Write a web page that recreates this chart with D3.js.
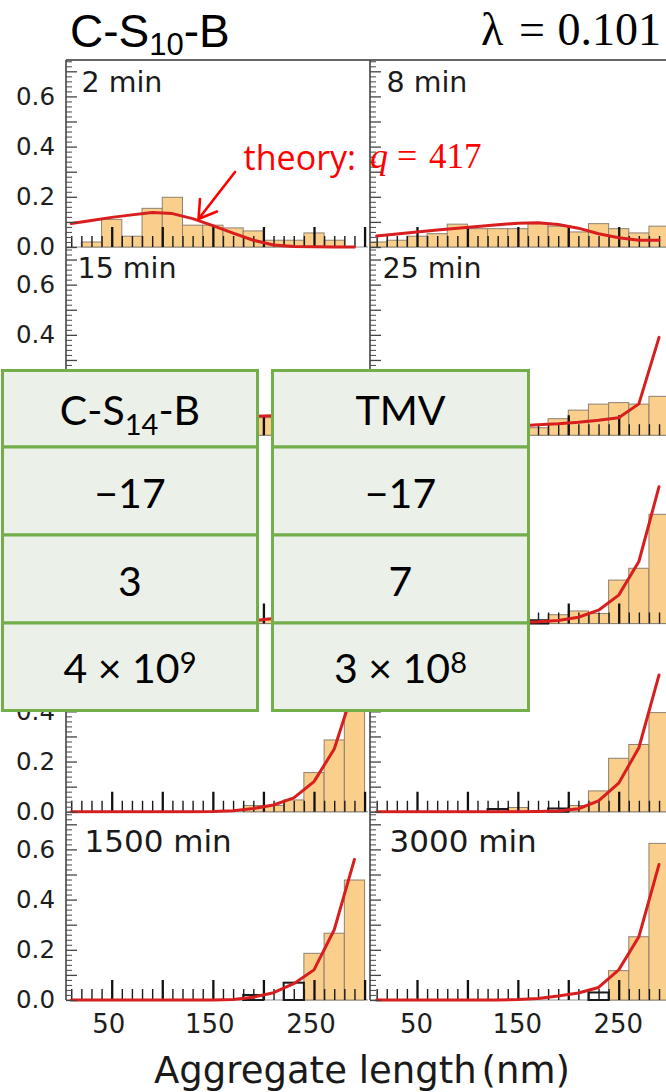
<!DOCTYPE html>
<html><head><meta charset="utf-8">
<script src="https://cdn.jsdelivr.net/npm/d3@7"></script>
<style>body{margin:0;background:#fff}svg{display:block}</style>
</head><body>
<svg id="c" width="666" height="1092"></svg>
<script>
// ---------- DATA ----------
const binEdges = [0,20,40,60,80,100,120,140,160,180,200,220,240,260,280,300];
const binCenters = [10,30,50,70,90,110,130,150,170,190,210,230,250,270,290];
const panelLabels = ["2 min","8 min","15 min","25 min","","","","","1500 min","3000 min"];
const barValues = [
  [0,0.02,0.11,0.043,0.154,0.198,0.087,0.087,0.076,0.064,0.027,0.027,0.056,0.027,0],
  [0.02,0.027,0.043,0.053,0.091,0.073,0.073,0.073,0.093,0.083,0.06,0.093,0.073,0.056,0.083],
  [0.01,0.02,0.035,0.05,0.06,0.07,0.075,0.07,0.065,0.07,0.07,0.06,0.075,0.09,0.12],
  [0.02,0.025,0.03,0.035,0.04,0.04,0.045,0.04,0.03,0.066,0.1,0.124,0.13,0.124,0.155],
  [0,0,0,0,0,0.005,0.005,0.01,0.01,0.01,0.015,0.05,0.12,0.2,0.35],
  [0,0,0,0,0,0,0,0,0,0.035,0.05,0.04,0.173,0.22,0.435],
  [0,0,0,0,0,0,0,0,0,0.025,0.025,0.047,0.156,0.286,0.5],
  [0,0,0,0,0,0,0,0.017,0,0,0.025,0.083,0.213,0.268,0.395],
  [0,0,0,0,0,0,0,0,0,0,0,0,0.186,0.266,0.478],
  [0,0,0,0,0,0,0,0,0,0,0,0,0.117,0.252,0.624]
];
const theoryValues = [
  [0.094,0.106,0.118,0.128,0.137,0.133,0.113,0.085,0.055,0.027,0.008,0.002,0.001,0,0],
  [0.044,0.052,0.06,0.068,0.075,0.082,0.089,0.095,0.097,0.09,0.075,0.053,0.037,0.027,0.027],
  [0.03,0.035,0.04,0.046,0.052,0.058,0.064,0.069,0.073,0.076,0.078,0.08,0.086,0.1,0.18],
  [0.02,0.022,0.025,0.027,0.029,0.031,0.034,0.037,0.042,0.046,0.052,0.06,0.07,0.125,0.39],
  [0,0,0,0,0.001,0.002,0.003,0.005,0.008,0.012,0.02,0.045,0.11,0.24,0.5],
  [0,0,0,0,0.001,0.002,0.003,0.005,0.007,0.012,0.025,0.053,0.113,0.247,0.545],
  [0,0,0,0,0,0,0,0.001,0.004,0.013,0.027,0.055,0.12,0.25,0.5],
  [0,0,0,0,0,0,0,0,0.001,0.003,0.012,0.043,0.114,0.255,0.545],
  [0,0,0,0,0,0,0,0,0.002,0.011,0.029,0.065,0.12,0.28,0.56],
  [0,0,0,0,0,0,0,0.002,0.006,0.016,0.028,0.05,0.12,0.252,0.54]
];
// outlined (simulation) boxes: [bin index, value]
const boxData = [[],[],[],[],[],[[8,0.013]],[],[[6,0.011],[9,0.013]],[[9,0.02],[11,0.069]],[[11,0.03]]];
const yTickLabels = [0,0.2,0.4,0.6];
const xTickLabels = [50,150,250];
const tableRows = [["C-S_{14}-B","TMV"],["\u221217","\u221217"],["3","7"],["4 \u00d7 10^{9}","3 \u00d7 10^{8}"]];

// ---------- LAYOUT ----------
const svg = d3.select("#c");
const rowBase = d3.range(5).map(i => 247 + i*188.25);
const rowH = 188.25;
const axisX = [66, 370], colRight = [368, 666];
const xs = [d3.scaleLinear().domain([50,250]).range([111.7,314]),
            d3.scaleLinear().domain([50,250]).range([417,618.7])];
const labelStyle = [{dx:15.5,dy:31.5,fs:28.5},{dx:11.5,dy:31.3,fs:28.5},{dx:14,dy:31.5,fs:28.5},{dx:14,dy:31.5,fs:28.5},{dx:18.5,dy:40,fs:31}];
const SANS = "'DejaVu Sans', sans-serif";
const defs = svg.append("defs");

svg.append("line").attr("x1",66).attr("x2",666).attr("y1",60).attr("y2",60)
  .attr("stroke","#333").attr("stroke-width",1.6);

for (let p = 0; p < 10; p++) {
  const r = Math.floor(p/2), c = p % 2;
  const base = rowBase[r], top = r === 0 ? 60 : rowBase[r-1];
  const x = xs[c];
  const y = d3.scaleLinear().domain([0,0.75]).range([base, base - rowH]);
  defs.append("clipPath").attr("id","cl"+p).append("rect")
    .attr("x",axisX[c]+0.5).attr("y",top).attr("width",colRight[c]-axisX[c]-0.5).attr("height",base-top+2);
  const g = svg.append("g").attr("clip-path",`url(#cl${p})`);
  g.append("line").attr("x1",axisX[c]).attr("x2",colRight[c]).attr("y1",base).attr("y2",base)
    .attr("stroke","#b5b5b5").attr("stroke-width",1.6);
  g.selectAll("rect.bar").data(barValues[p].map((v,i)=>({v,i})).filter(d=>d.v>0)).join("rect")
    .attr("class","bar")
    .attr("x",d=>x(binEdges[d.i])).attr("width",d=>x(binEdges[d.i+1])-x(binEdges[d.i]))
    .attr("y",d=>y(d.v)).attr("height",d=>base-y(d.v))
    .attr("fill","#f9cf8b").attr("stroke","#8f8170").attr("stroke-width",1);
  const minor = d3.range(1,31).map(i=>i*10).filter(v=>v%50!==0);
  const major = d3.range(1,7).map(i=>i*50);
  const ax1 = g.append("g").attr("transform",`translate(0,${base})`)
    .call(d3.axisTop(x).tickValues(minor).tickSize(11).tickFormat(""));
  ax1.select(".domain").remove();
  ax1.selectAll("line").attr("stroke","#1a1a1a").attr("stroke-width",1.4);
  const ax2 = g.append("g").attr("transform",`translate(0,${base})`)
    .call(d3.axisTop(x).tickValues(major).tickSize(20).tickFormat(""));
  ax2.select(".domain").remove();
  ax2.selectAll("line").attr("stroke","#111").attr("stroke-width",2.3);
  g.selectAll("rect.box").data(boxData[p]).join("rect").attr("class","box")
    .attr("x",d=>x(binEdges[d[0]])).attr("width",d=>x(binEdges[d[0]+1])-x(binEdges[d[0]]))
    .attr("y",d=>y(d[1])).attr("height",d=>base-y(d[1]))
    .attr("fill","none").attr("stroke","#1a1a1a").attr("stroke-width",2);
  g.append("path").datum(theoryValues[p])
    .attr("d", d3.line().x((v,i)=>x(binCenters[i])).y(v=>y(v)))
    .attr("fill","none").attr("stroke","#d81e1e").attr("stroke-width",3)
    .attr("stroke-linejoin","round").attr("stroke-linecap","round");
  const yMinor = d3.range(0,38).filter(i=>i%5!==0).map(i=>i*0.02);
  const yMajor = d3.range(0,8).map(i=>i*0.1);
  const ya = svg.append("g").attr("transform",`translate(${axisX[c]},0)`)
    .call(d3.axisRight(y).tickValues(yMinor).tickSize(6).tickFormat(""));
  ya.select(".domain").remove();
  ya.selectAll("line").attr("stroke","#555").attr("stroke-width",1.1);
  const yb = svg.append("g").attr("transform",`translate(${axisX[c]},0)`)
    .call(d3.axisRight(y).tickValues(yMajor).tickSize(11).tickFormat(""));
  yb.select(".domain").remove();
  yb.selectAll("line").attr("stroke","#444").attr("stroke-width",1.3);
  if (c === 0) {
    const yl = svg.append("g").attr("transform",`translate(${axisX[c]},0)`)
      .call(d3.axisLeft(y).tickValues(yTickLabels).tickSize(0).tickPadding(11).tickFormat(d3.format(".1f")));
    yl.select(".domain").remove();
    yl.selectAll("text").attr("font-family",SANS).attr("font-size",24.5).attr("fill","#1e1e1e");
  }
  if (r === 4) {
    const xl = svg.append("g").attr("transform",`translate(${c===0?-3.5:-1},${base})`)
      .call(d3.axisBottom(x).tickValues(xTickLabels).tickSize(0).tickPadding(14.5));
    xl.select(".domain").remove();
    xl.selectAll("text").attr("font-family",SANS).attr("font-size",26).attr("fill","#1e1e1e");
  }
  if (panelLabels[p]) {
    const ls = labelStyle[r];
    svg.append("text").attr("x",axisX[c]+ls.dx+(c===1?1:0)).attr("y",top+ls.dy)
      .attr("font-family",SANS).attr("font-size",ls.fs).attr("fill","#1a1a1a").text(panelLabels[p]);
  }
}
axisX.forEach(ax => svg.append("line").attr("x1",ax).attr("x2",ax).attr("y1",60).attr("y2",rowBase[4])
  .attr("stroke","#444").attr("stroke-width",1.6));

svg.append("text").attr("x",362).attr("y",1083).attr("text-anchor","middle")
  .attr("font-family",SANS).attr("font-size",37).attr("fill","#1a1a1a")
  .call(t=>{t.append("tspan").text("Aggregate length"); t.append("tspan").attr("dx",5).text("(nm)");});

const tt = svg.append("text").attr("x",70).attr("y",46.5)
  .attr("font-family","'Liberation Sans', Arial, sans-serif").attr("font-size",46).attr("fill","#000");
tt.append("tspan").text("C-S");
tt.append("tspan").attr("font-size",31).attr("dy",8).text("10");
tt.append("tspan").attr("dy",-8).text("-B");
const lam = svg.append("g").attr("font-family","'Liberation Serif', 'Times New Roman', serif").attr("font-size",46).attr("fill","#000");
lam.append("text").attr("x",481).attr("y",45).text("\u03bb");
lam.append("text").attr("x",519).attr("y",45).text("=");
lam.append("text").attr("x",661).attr("y",45).attr("text-anchor","end").text("0.101");

const an = svg.append("g").attr("fill","#ff0000");
an.append("text").attr("x",356).attr("y",170).attr("text-anchor","end").attr("font-family","'Open Sans', Lato, sans-serif").attr("font-size",34).text("theory:");
an.append("text").attr("x",370).attr("y",168).attr("font-family","'Liberation Serif', serif").attr("font-style","italic").attr("font-size",36).text("q");
an.append("text").attr("x",397).attr("y",168).attr("font-family","'Liberation Serif', serif").attr("font-size",36).text("=");
an.append("text").attr("x",429).attr("y",168).attr("font-family","'Liberation Serif', serif").attr("font-size",35).text("417");
svg.append("path").attr("d","M235,172 L198.5,219 M200,199 L198.5,219 L217,211.5")
  .attr("fill","none").attr("stroke","#ff0000").attr("stroke-width",2.6).attr("stroke-linecap","round").attr("stroke-linejoin","miter");

const tRowY = [370.5, 447, 535, 623, 710.5];
const tColX = [[2.5,257.5],[272.5,528.5]];
function parts(s){
  const out=[]; let last=0; const re=/(_|\^)\{([^}]*)\}/g; let m;
  while((m=re.exec(s))){ if(m.index>last) out.push({t:s.slice(last,m.index),k:0}); out.push({t:m[2],k:m[1]==="_"?1:-1}); last=re.lastIndex; }
  if(last<s.length) out.push({t:s.slice(last),k:0}); return out;
}
const tg = svg.append("g");
tableRows.forEach((row, ri) => {
  row.forEach((cell, ci) => {
    const [x0,x1] = tColX[ci], y0 = tRowY[ri], y1 = tRowY[ri+1];
    tg.append("rect").attr("x",x0).attr("y",y0).attr("width",x1-x0).attr("height",y1-y0)
      .attr("fill","#ebf0e9").attr("stroke","#72ae4a").attr("stroke-width",3);
    const t = tg.append("text").attr("x",(x0+x1)/2).attr("y",(y0+y1)/2+16.5).attr("text-anchor","middle")
      .attr("font-family","Lato, 'Open Sans', sans-serif").attr("font-size",41).attr("fill","#000");
    let shift = 0;
    parts(cell).forEach(pt => {
      const target = pt.k===1 ? 10 : pt.k===-1 ? -10 : 0;
      const ts = t.append("tspan").attr("dy", target - shift).text(pt.t);
      if (pt.k!==0) ts.attr("font-size",29);
      shift = target;
    });
  });
});
</script>
</body></html>
